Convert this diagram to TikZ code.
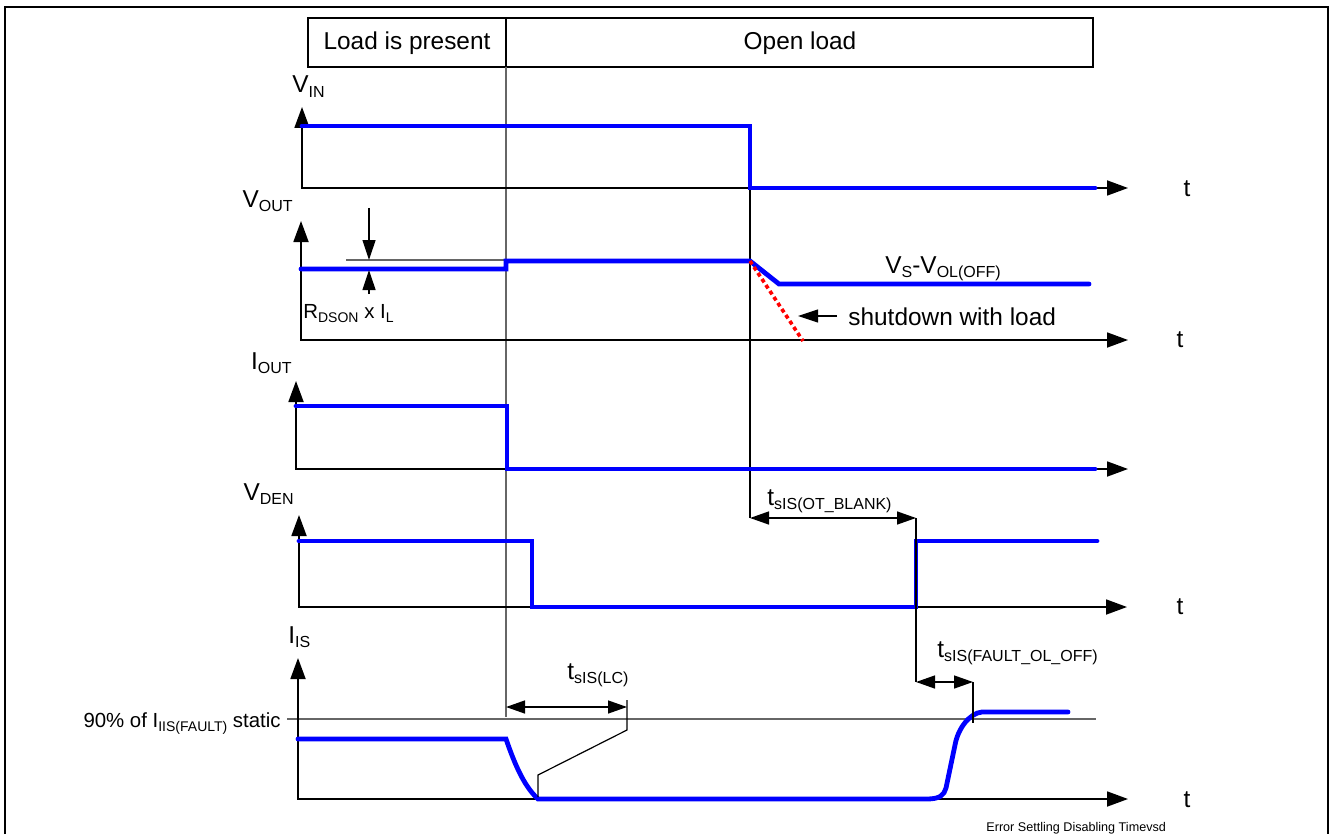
\documentclass[tikz,border=0pt]{standalone}
\usepackage{fontspec}
\setmainfont{Liberation Sans}
\usetikzlibrary{arrows.meta}
\newcommand\sbA[1]{\raisebox{-2.2pt}{\fontsize{8}{8}\selectfont #1}}
\newcommand\sbB[1]{\raisebox{-2pt}{\fontsize{7}{7}\selectfont #1}}
\begin{document}
\begin{tikzpicture}[x=0.5pt,y=-0.5pt,
  tip/.style={-{Triangle[length=10pt,width=6.5pt]}},
  axes/.style={line width=0.9pt, black, {Triangle[length=10.5pt,width=7.5pt]}-{Triangle[length=10.5pt,width=7.5pt]}},
  sig/.style={line width=2.4pt, blue, line join=miter, line cap=round},
  thinline/.style={line width=0.6pt, black},
  grayline/.style={line width=0.6pt, black!60},
  dim/.style={line width=0.7pt, {Triangle[length=9.5pt,width=6.5pt]}-{Triangle[length=9.5pt,width=6.5pt]}},
  lab/.style={inner sep=0pt, font=\fontsize{12.2}{14}\selectfont},
  slab/.style={inner sep=0pt, font=\fontsize{10.2}{12}\selectfont},
]
\useasboundingbox (0,0) rectangle (1331,834);
% frame
\draw[line width=0.8pt] (5,834) -- (5,7) -- (1328,7) -- (1328,834);
% header
\draw[line width=0.8pt] (308,18) rectangle (1093,67);
\draw[line width=0.8pt] (506,18) -- (506,67);
\node[lab, anchor=base] (hdrA) at (407,50) {Load is present};
\node[lab, anchor=base] (hdrB) at (800,50) {Open load};
% vertical guide lines
\draw[grayline] (506,67) -- (506,717);
\draw[thinline] (750,188) -- (750,518);

% ---- VIN ----
\draw[axes] (302,107) -- (302,188) -- (1128,188);
\draw[sig] (302,126) -- (750,126) -- (750,188) -- (1095,188);
\node[lab, anchor=base west] (vin) at (292,93) {V\sbA{IN}};
\node[lab, anchor=base] (t1) at (1187,197) {t};

% ---- VOUT ----
\draw[axes] (301,221) -- (301,340) -- (1128,340);
\draw[grayline] (346,260) -- (506,260);
\draw[sig] (301,269) -- (506,269) -- (506,261) -- (750,261) -- (779,284) -- (1089,284);
\draw[red, line width=1.8pt, dash pattern=on 2pt off 1.6pt] (750,261) -- (803,341);
\draw[thinline, tip] (369,208) -- (369,260);
\draw[thinline, tip] (369,294) -- (369,270);
\node[lab, anchor=base east] (vout) at (293,207) {V\sbA{OUT}};
\node[slab, anchor=base west] (rds) at (303,318) {R\sbB{DSON} x I\sbB{L}};
\node[lab, anchor=base west] (vsol) at (885,273) {V\sbA{S}-V\sbA{OL(OFF)}};
\draw[thinline, tip] (837,316) -- (798,316);
\node[lab, anchor=base west] (shut) at (848,325) {shutdown with load};
\node[lab, anchor=base] (t2) at (1180,347) {t};

% ---- IOUT ----
\draw[axes] (296,381) -- (296,469) -- (1128,469);
\draw[sig] (296,406) -- (507,406) -- (507,469) -- (1095,469);
\node[lab, anchor=base east] (iout) at (292,369) {I\sbA{OUT}};

% ---- VDEN ----
\draw[axes] (299,515) -- (299,607) -- (1127,607);
\draw[sig] (299,541) -- (532,541) -- (532,607) -- (916,607) -- (916,541) -- (1097,541);
\node[lab, anchor=base east] (vden) at (294,500) {V\sbA{DEN}};
\node[lab, anchor=base] (t3) at (1180,614) {t};
% tsIS(OT_BLANK)
\draw[dim] (750,518) -- (916,518);
\draw[thinline] (916,518) -- (916,682);
\node[lab, anchor=base west] (tot) at (767,505) {t\sbA{sIS(OT\_BLANK)}};

% ---- IIS ----
\draw[grayline] (287,719) -- (1096,719);
\draw[axes] (298,658) -- (298,799) -- (1128,799);
\draw[sig] (298,739) -- (506,739) .. controls (515,765) and (524,786) .. (538,799)
  -- (927,799) .. controls (940,799) and (944,795) .. (946,788)
  -- (955,745) .. controls (958,728) and (970,713) .. (982,712) -- (1068,712);
\node[lab, anchor=base west] (iis) at (288,643) {I\sbA{IS}};
\node[slab, anchor=base east] (ninety) at (281,727) {90\% of I\sbB{IIS(FAULT)} static};
\node[lab, anchor=base] (t4) at (1187,807) {t};
% tsIS(LC)
\draw[dim] (506,707) -- (627,707);
\draw[thinline] (627,700) -- (627,730) -- (538,775) -- (538,797);
\node[lab, anchor=base west] (tlc) at (567,679) {t\sbA{sIS(LC)}};
% tsIS(FAULT_OL_OFF)
\draw[dim] (916,682) -- (973,682);
\draw[thinline] (973,682) -- (973,723);
\node[lab, anchor=base west] (tfo) at (937,657) {t\sbA{sIS(FAULT\_OL\_OFF)}};

% footer
\node[inner sep=0pt, anchor=base west, font=\fontsize{6.3}{7}\selectfont] (foot) at (986,831) {Error Settling Disabling Timevsd};
\end{tikzpicture}
\end{document}
